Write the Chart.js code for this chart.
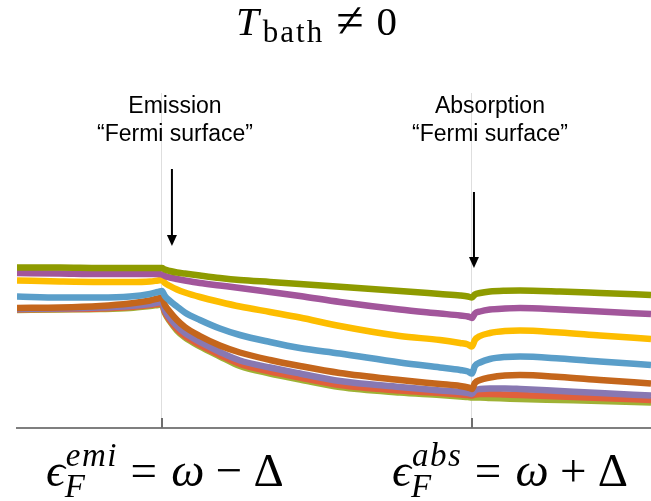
<!DOCTYPE html>
<html>
<head>
<meta charset="utf-8">
<script src="https://cdn.jsdelivr.net/npm/chart.js@4/dist/chart.umd.min.js"></script>
<style>
  html, body { margin: 0; padding: 0; background: #fff; overflow: hidden; }
  canvas { display: block; }
</style>
</head>
<body>
<canvas id="c" width="651" height="501"></canvas>
<script>
// Energy axis, in units where the two "Fermi surfaces" sit at -1 and +1
const energy = [-1.935, -1.658, -1.4, -1.206, -1.077, -1.026, -1, -0.981, -0.948, -0.903,
  -0.852, -0.755, -0.626, -0.497, -0.303, -0.11, 0.148, 0.535, 0.794, 0.923,
  0.974, 1, 1.019, 1.052, 1.116, 1.213, 1.31, 1.568, 1.826, 2.155];

// Marked energies on the axis: emission and absorption Fermi surfaces
const markers = [-1, 1];

// Curves, top to bottom
const olive = [1.605, 1.605, 1.60, 1.60, 1.60, 1.60, 1.60, 1.585, 1.57, 1.555,
  1.545, 1.525, 1.50, 1.48, 1.46, 1.44, 1.413, 1.37, 1.34, 1.325,
  1.315, 1.305, 1.335, 1.35, 1.365, 1.373, 1.375, 1.365, 1.35, 1.33];
const magenta = [1.55, 1.545, 1.54, 1.54, 1.54, 1.54, 1.535, 1.52, 1.505, 1.49,
  1.475, 1.45, 1.425, 1.40, 1.36, 1.32, 1.26, 1.185, 1.145, 1.125,
  1.115, 1.10, 1.145, 1.165, 1.185, 1.195, 1.20, 1.185, 1.165, 1.14];
const yellow = [1.475, 1.465, 1.46, 1.46, 1.465, 1.475, 1.48, 1.45, 1.42, 1.385,
  1.355, 1.31, 1.26, 1.215, 1.16, 1.105, 1.02, 0.92, 0.88, 0.85,
  0.835, 0.815, 0.88, 0.92, 0.95, 0.97, 0.975, 0.955, 0.925, 0.89];
const blue = [1.315, 1.305, 1.305, 1.315, 1.34, 1.36, 1.37, 1.32, 1.27, 1.215,
  1.155, 1.08, 0.995, 0.93, 0.86, 0.80, 0.745, 0.655, 0.605, 0.58,
  0.565, 0.545, 0.62, 0.655, 0.69, 0.71, 0.715, 0.695, 0.665, 0.63];
const orange = [1.20, 1.205, 1.22, 1.245, 1.275, 1.295, 1.305, 1.23, 1.16, 1.08,
  1.01, 0.92, 0.825, 0.755, 0.68, 0.62, 0.55, 0.48, 0.44, 0.42,
  0.405, 0.39, 0.45, 0.48, 0.505, 0.525, 0.53, 0.51, 0.48, 0.445];
const lavender = [1.19, 1.195, 1.205, 1.22, 1.24, 1.255, 1.26, 1.18, 1.10, 1.02,
  0.95, 0.86, 0.76, 0.675, 0.605, 0.545, 0.47, 0.41, 0.375, 0.36,
  0.35, 0.34, 0.375, 0.39, 0.395, 0.395, 0.39, 0.37, 0.35, 0.325];
const vermilion = [1.185, 1.19, 1.195, 1.21, 1.23, 1.24, 1.245, 1.16, 1.075, 0.99,
  0.92, 0.83, 0.73, 0.64, 0.565, 0.505, 0.43, 0.375, 0.35, 0.335,
  0.33, 0.325, 0.335, 0.34, 0.34, 0.335, 0.33, 0.315, 0.30, 0.28];
const lime = [1.18, 1.185, 1.19, 1.20, 1.22, 1.23, 1.235, 1.15, 1.065, 0.975,
  0.905, 0.815, 0.715, 0.62, 0.545, 0.485, 0.41, 0.355, 0.33, 0.315,
  0.31, 0.305, 0.305, 0.305, 0.30, 0.295, 0.29, 0.28, 0.27, 0.255];

const seriesList = [
  { values: olive, color: '#8e9b00' },
  { values: magenta, color: '#a2569b' },
  { values: yellow, color: '#fdbd00' },
  { values: blue, color: '#5a9ec9' },
  { values: orange, color: '#c4661c' },
  { values: lavender, color: '#8878b2' },
  { values: vermilion, color: '#e0603c' },
  { values: lime, color: '#9fb235' }
];

const SERIF = '"Liberation Serif", "DejaVu Serif", serif';
const SANS = '"Liberation Sans", Arial, sans-serif';

// Draw text char by char with extra spacing; returns advance width
function spaced(ctx, text, x, y, ls) {
  let cx = x;
  for (const ch of text) {
    ctx.fillText(ch, cx, y);
    cx += ctx.measureText(ch).width + ls;
  }
  return cx - x - ls;
}

// Draw a run of math pieces left to right from x on a baseline
function drawMath(ctx, pieces, x, baseline) {
  let cx = x;
  pieces.forEach(p => {
    if (p.stack) {
      let w = 0;
      p.stack.forEach(s => {
        ctx.font = s.font;
        w = Math.max(w, spaced(ctx, s.t, cx + (s.dx || 0), baseline + s.dy, s.ls || 0) + (s.dx || 0));
      });
      cx += w + (p.after || 0);
    } else {
      cx += p.before || 0;
      ctx.font = p.font;
      cx += spaced(ctx, p.t, cx, baseline + (p.dy || 0), p.ls || 0) + (p.after || 0);
    }
  });
}

function fermiLabel(sup, op) {
  const S = 47;
  const s = Math.round(S * 0.7);
  return [
    { t: '\u03F5', font: `italic ${S}px ${SERIF}` },
    { stack: [
        { t: sup, font: `italic ${s}px ${SERIF}`, dy: -S * 0.42, dx: 1, ls: 1.5 },
        { t: 'F', font: `italic ${s}px ${SERIF}`, dy: S * 0.24 }
      ] },
    { t: '=', font: `${S}px ${SERIF}`, before: S * 0.3, after: S * 0.3 },
    { t: '\u03C9', font: `italic ${S}px ${SERIF}` },
    { t: op, font: `${S}px ${SERIF}`, before: S * 0.24, after: S * 0.24 },
    { t: '\u0394', font: `${S}px ${SERIF}` }
  ];
}

const decor = {
  id: 'decor',
  afterDraw(chart) {
    const ctx = chart.ctx;
    const xs = chart.scales.x;
    const area = chart.chartArea;
    ctx.save();

    // short tick marks rising from the axis
    ctx.strokeStyle = '#6e6e6e';
    ctx.lineWidth = 2;
    markers.forEach(v => {
      const px = Math.round(xs.getPixelForValue(v));
      ctx.beginPath();
      ctx.moveTo(px, area.bottom - 10);
      ctx.lineTo(px, area.bottom);
      ctx.stroke();
    });

    ctx.fillStyle = '#000';
    ctx.textBaseline = 'alphabetic';
    ctx.textAlign = 'left';

    // title
    drawMath(ctx, [
      { t: 'T', font: `italic 41px ${SERIF}` },
      { t: 'bath', font: `31px ${SERIF}`, dy: 7, before: 4, ls: 2 },
      { t: '\u2260', font: `50px ${SERIF}`, before: 14, dy: 2 },
      { t: '0', font: `41px ${SERIF}`, before: 13 }
    ], 236, 35);

    // axis labels under the two marked energies
    const e = xs.getPixelForValue(markers[0]);
    const a = xs.getPixelForValue(markers[1]);
    drawMath(ctx, fermiLabel('emi', '\u2212'), e - 116, 486);
    drawMath(ctx, fermiLabel('abs', '+'), a - 80, 486);

    // annotations
    ctx.font = `23px ${SANS}`;
    ctx.textAlign = 'center';
    ctx.fillText('Emission', e + 13, 113);
    ctx.fillText('\u201CFermi surface\u201D', e + 13, 141);
    ctx.fillText('Absorption', a + 18, 113);
    ctx.fillText('\u201CFermi surface\u201D', a + 18, 141);

    // arrows
    const arrow = (x, y0, y1) => {
      ctx.strokeStyle = '#000';
      ctx.lineWidth = 2;
      ctx.beginPath();
      ctx.moveTo(x, y0);
      ctx.lineTo(x, y1 - 10);
      ctx.stroke();
      ctx.beginPath();
      ctx.moveTo(x - 5, y1 - 11);
      ctx.lineTo(x + 5, y1 - 11);
      ctx.lineTo(x, y1);
      ctx.closePath();
      ctx.fill();
    };
    arrow(e + 10, 169, 246);
    arrow(a + 2, 192, 268);

    ctx.restore();
  }
};

new Chart(document.getElementById('c'), {
  type: 'line',
  data: {
    datasets: seriesList.map(s => ({
      data: energy.map((x, i) => ({ x, y: s.values[i] })),
      borderColor: s.color,
      backgroundColor: s.color,
      borderWidth: 6.5,
      pointRadius: 0,
      cubicInterpolationMode: 'monotone',
      borderJoinStyle: 'round',
      fill: false
    }))
  },
  options: {
    responsive: false,
    animation: false,
    devicePixelRatio: 1,
    layout: { padding: { left: 17, right: 0, top: 93, bottom: 73 } },
    plugins: { legend: { display: false }, tooltip: { enabled: false } },
    scales: {
      x: {
        type: 'linear',
        min: -1.935,
        max: 2.155,
        afterBuildTicks: axis => { axis.ticks = markers.map(v => ({ value: v })); },
        ticks: { display: false },
        grid: { color: '#dedede', lineWidth: 1, drawTicks: false },
        border: { display: true, color: '#7f7f7f', width: 2 }
      },
      y: { display: false, min: 0, max: 3.35 }
    }
  },
  plugins: [decor]
});
</script>
</body>
</html>
